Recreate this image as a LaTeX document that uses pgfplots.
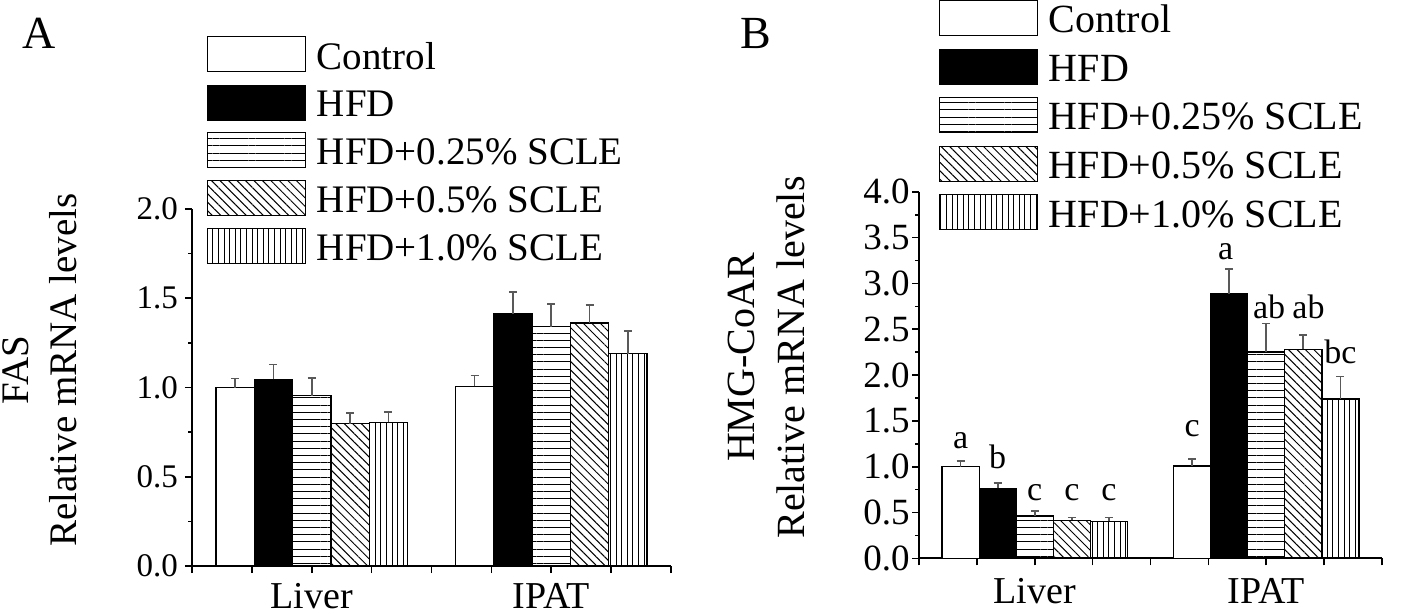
\documentclass[border=0pt]{standalone}
\usepackage{pgfplots}
\pgfplotsset{compat=1.18}
\usepackage{pgfplotstable}
\usetikzlibrary{patterns,patterns.meta}
\usepackage{fontspec}
\setmainfont{Liberation Serif}

\pgfplotstableread{
x y e
0.72 1.000 0.050
4.72 1.007 0.060
}\faCtl
\pgfplotstableread{
x y e
1.36 1.045 0.083
5.36 1.412 0.124
}\faHFD
\pgfplotstableread{
x y e
2.00 0.954 0.098
6.00 1.341 0.127
}\faA
\pgfplotstableread{
x y e
2.64 0.797 0.060
6.64 1.361 0.101
}\faB
\pgfplotstableread{
x y e
3.28 0.804 0.058
7.28 1.190 0.125
}\faC

\pgfplotstableread{
x y e
0.72 1.000 0.060
4.72 1.010 0.077
}\hmCtl
\pgfplotstableread{
x y e
1.36 0.764 0.061
5.36 2.890 0.270
}\hmHFD
\pgfplotstableread{
x y e
2.00 0.461 0.059
6.00 2.254 0.310
}\hmA
\pgfplotstableread{
x y e
2.64 0.414 0.033
6.64 2.280 0.160
}\hmB
\pgfplotstableread{
x y e
3.28 0.404 0.043
7.28 1.738 0.245
}\hmC

\pgfplotsset{
  mybar/.style={ybar, bar width=0.64, bar shift=0pt, draw=black, line width=0.7pt,
    error bars/.cd, y dir=plus, y explicit,
      error bar style={black!65, line width=0.8pt},
      error mark options={rotate=90, mark size=2pt, black!65, line width=0.8pt},
    /pgfplots/.cd,
    legend image code/.code={\draw[##1, line width=0.5pt] (0pt,-7.25pt) rectangle (49pt,10.25pt);}},
  pCtl/.style={mybar, fill=white},
  pHFD/.style={mybar, fill=black},
  pA/.style={mybar, pattern={Lines[angle=0, distance=3.6pt, line width=0.5pt]}},
  pB/.style={mybar, pattern={Lines[angle=-45, distance=3pt, line width=0.5pt]}},
  pC/.style={mybar, pattern={Lines[angle=90, distance=2.8pt, line width=0.5pt]}},
  common/.style={
    scale only axis,
    xmin=0, xmax=8, ymin=0,
    axis x line*=bottom, axis y line*=left,
    xtick={0,...,8}, xticklabels={,,Liver,,,,IPAT,,},
    minor y tick num=1,
    tick align=outside, major tick length=3.5pt, minor tick length=1.8pt,
    tick style={black, line width=0.8pt},
    axis line style={line width=1pt},
    /pgf/number format/assume math mode=true,
    yticklabel style={/pgf/number format/fixed, /pgf/number format/fixed zerofill, /pgf/number format/precision=1},
    legend cell align=left,
  },
}

\begin{document}
\begin{tikzpicture}
\path[use as bounding box] (0,0) rectangle (709pt,-307pt);
\node[anchor=north west, inner sep=0pt, font=\fontsize{23}{23}\selectfont] at (11pt,-9pt) {A};
\node[anchor=north west, inner sep=0pt, font=\fontsize{23}{23}\selectfont] at (370pt,-9pt) {B};

\begin{axis}[common,
  at={(96pt,-283pt)}, anchor=south west,
  width=239.5pt, height=178.5pt,
  ymax=2, ytick={0,0.5,...,2},
  yticklabel style={font=\fontsize{16.5}{16.5}\selectfont},
  xticklabel style={font=\fontsize{19}{19}\selectfont, inner sep=0pt, yshift=-5pt},
  ylabel={FAS\\Relative mRNA levels},
  ylabel style={align=center, font=\fontsize{19.5}{24}\selectfont, at={(axis description cs:-0.24,0.549)}, anchor=south, inner sep=0pt},
  legend style={at={(axis description cs:0.031,1.484)}, anchor=north west, draw=none, fill=none,
    inner sep=0pt, outer sep=0pt, row sep=4.2pt, column sep=3.5pt,
    font=\fontsize{19.5}{19.5}\selectfont},
]
\addplot[pCtl] table[x=x, y=y, y error=e] {\faCtl};
\addplot[pHFD] table[x=x, y=y, y error=e] {\faHFD};
\addplot[pA] table[x=x, y=y, y error=e] {\faA};
\addplot[pB] table[x=x, y=y, y error=e] {\faB};
\addplot[pC] table[x=x, y=y, y error=e] {\faC};
\legend{Control, HFD, HFD+0.25\% SCLE, HFD+0.5\% SCLE, HFD+1.0\% SCLE}
\end{axis}

\begin{axis}[common,
  at={(459.5pt,-279.2pt)}, anchor=south west,
  width=231.5pt, height=183.3pt,
  ymax=4, ytick={0,0.5,...,4},
  yticklabel style={font=\fontsize{18.5}{18.5}\selectfont, inner sep=1pt},
  xticklabel style={font=\fontsize{19}{19}\selectfont, inner sep=0pt, yshift=-6.3pt},
  ylabel={HMG-CoAR\\Relative mRNA levels},
  ylabel style={align=center, font=\fontsize{20}{25}\selectfont, at={(axis description cs:-0.246,0.548)}, anchor=south, inner sep=0pt},
  legend style={at={(axis description cs:0.043,1.5245)}, anchor=north west, draw=none, fill=none,
    inner sep=0pt, outer sep=0pt, row sep=4.4pt, column sep=3.5pt,
    font=\fontsize{20}{20}\selectfont},
]
\addplot[pCtl] table[x=x, y=y, y error=e] {\hmCtl};
\addplot[pHFD] table[x=x, y=y, y error=e] {\hmHFD};
\addplot[pA] table[x=x, y=y, y error=e] {\hmA};
\addplot[pB] table[x=x, y=y, y error=e] {\hmB};
\addplot[pC] table[x=x, y=y, y error=e] {\hmC};
\legend{Control, HFD, HFD+0.25\% SCLE, HFD+0.5\% SCLE, HFD+1.0\% SCLE}
\begin{scope}[every node/.style={anchor=base, inner sep=0pt, font=\fontsize{17}{17}\selectfont}]
\node at (axis cs:0.72,1.20) {a};
\node at (axis cs:1.36,0.98) {b};
\node at (axis cs:2.00,0.636) {c};
\node at (axis cs:2.64,0.636) {c};
\node at (axis cs:3.28,0.636) {c};
\node at (axis cs:4.72,1.327) {c};
\node at (axis cs:5.30,3.26) {a};
\node at (axis cs:6.05,2.618) {ab};
\node at (axis cs:6.73,2.618) {ab};
\node at (axis cs:7.28,2.127) {bc};
\end{scope}
\end{axis}
\end{tikzpicture}
\end{document}
